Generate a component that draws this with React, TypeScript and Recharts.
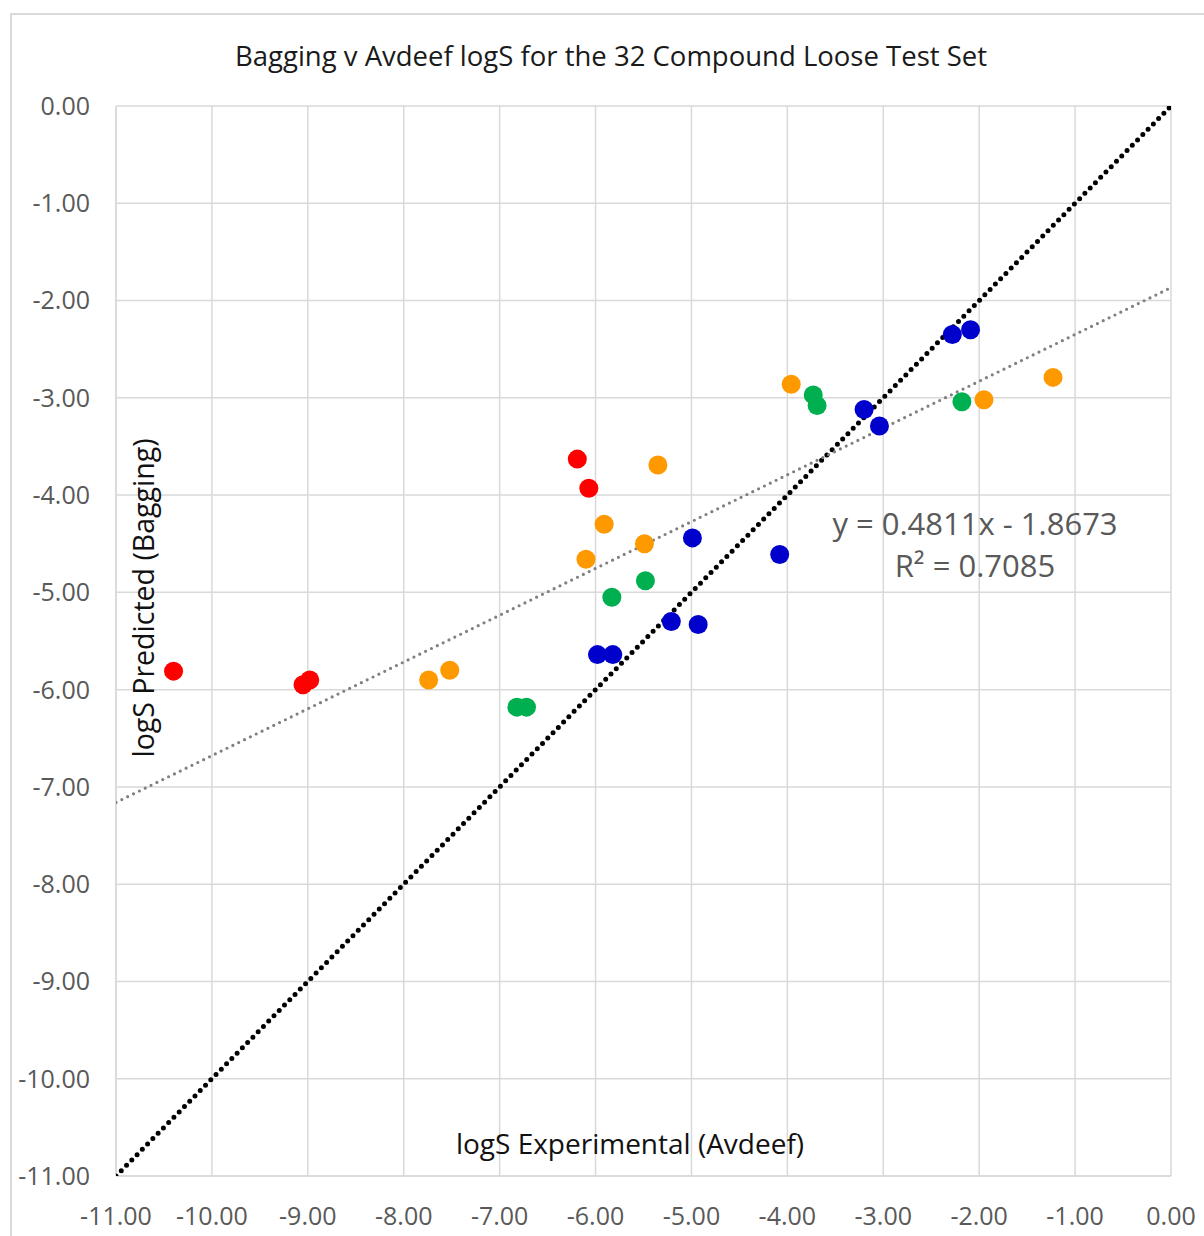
import React from 'react';
import { ScatterChart, Scatter, XAxis, YAxis, CartesianGrid } from 'recharts';

// points, grouped by marker colour
const redPts = [
  { x: -10.40, y: -5.81 },
  { x: -9.05, y: -5.95 },
  { x: -8.98, y: -5.90 },
  { x: -6.19, y: -3.63 },
  { x: -6.07, y: -3.93 },
];
const orangePts = [
  { x: -7.74, y: -5.90 },
  { x: -7.52, y: -5.80 },
  { x: -6.10, y: -4.66 },
  { x: -5.91, y: -4.30 },
  { x: -5.35, y: -3.69 },
  { x: -5.49, y: -4.50 },
  { x: -3.96, y: -2.86 },
  { x: -1.95, y: -3.02 },
  { x: -1.23, y: -2.79 },
];
const greenPts = [
  { x: -6.82, y: -6.18 },
  { x: -6.72, y: -6.18 },
  { x: -5.83, y: -5.05 },
  { x: -5.48, y: -4.88 },
  { x: -3.73, y: -2.97 },
  { x: -3.69, y: -3.08 },
  { x: -2.18, y: -3.04 },
];
const bluePts = [
  { x: -5.98, y: -5.64 },
  { x: -5.82, y: -5.64 },
  { x: -5.21, y: -5.30 },
  { x: -4.93, y: -5.33 },
  { x: -4.99, y: -4.44 },
  { x: -4.08, y: -4.61 },
  { x: -3.20, y: -3.12 },
  { x: -3.04, y: -3.29 },
  { x: -2.28, y: -2.35 },
  { x: -2.09, y: -2.30 },
];

const ticks = [-11, -10, -9, -8, -7, -6, -5, -4, -3, -2, -1, 0];

// Excel linear trendline
const slope = 0.4811;
const intercept = -1.8673;
const trend = [
  { x: -11, y: slope * -11 + intercept },
  { x: 0, y: intercept },
];
const identity = [
  { x: -11, y: -11 },
  { x: 0, y: 0 },
];

const FONT = "'Open Sans', sans-serif";
const GREY_TXT = '#595959';

const dot = (color: string) => (props: any) => (
  <circle cx={props.cx} cy={props.cy} r={9.5} fill={color} />
);
const noDot = () => <g />;

export default function App() {
  const tickStyle = { fontSize: 25, fill: GREY_TXT, fontFamily: FONT };
  return (
    <div style={{ position: 'absolute', left: 0, top: 0, width: 1204, height: 1236, overflow: 'hidden', background: '#fff', fontFamily: FONT }}>
      <div style={{ position: 'absolute', left: 10, top: 13, width: 1250, height: 1300, border: '2px solid #d9d9d9' }} />
      <ScatterChart width={1204} height={1236} margin={{ top: 106, right: 33, bottom: 10, left: 16 }}>
        <CartesianGrid stroke="#d9d9d9" strokeWidth={1.5} />
        <XAxis
          type="number"
          dataKey="x"
          domain={[-11, 0]}
          ticks={ticks}
          height={50}
          tickSize={0}
          tickMargin={31}
          tickFormatter={(v: number) => v.toFixed(2)}
          tick={tickStyle}
          stroke="#d9d9d9"
          strokeWidth={1.5}
          allowDataOverflow
        />
        <YAxis
          type="number"
          dataKey="y"
          domain={[-11, 0]}
          ticks={ticks}
          width={100}
          tickSize={0}
          tickMargin={26}
          tickFormatter={(v: number) => v.toFixed(2)}
          tick={tickStyle}
          stroke="#d9d9d9"
          strokeWidth={1.5}
          allowDataOverflow
        />
        <Scatter
          data={identity}
          isAnimationActive={false}
          line={{ stroke: '#000', strokeWidth: 5, strokeDasharray: '0 7.5', strokeLinecap: 'round' }}
          shape={noDot}
        />
        <Scatter
          data={trend}
          isAnimationActive={false}
          line={{ stroke: '#808080', strokeWidth: 3.2, strokeDasharray: '0 6.5', strokeLinecap: 'round' }}
          shape={noDot}
        />
        <Scatter data={redPts} isAnimationActive={false} shape={dot('#ff0000')} />
        <Scatter data={orangePts} isAnimationActive={false} shape={dot('#ff9900')} />
        <Scatter data={greenPts} isAnimationActive={false} shape={dot('#00b050')} />
        <Scatter data={bluePts} isAnimationActive={false} shape={dot('#0000cc')} />
      </ScatterChart>
      <div style={{ position: 'absolute', left: 611, top: 55, transform: 'translate(-50%, -50%)', fontSize: 27.5, color: '#1a1a1a', whiteSpace: 'nowrap' }}>
        Bagging v Avdeef logS for the 32 Compound Loose Test Set
      </div>
      <div style={{ position: 'absolute', left: 630, top: 1143, transform: 'translate(-50%, -50%)', fontSize: 28, color: '#111', whiteSpace: 'nowrap' }}>
        logS Experimental (Avdeef)
      </div>
      <div style={{ position: 'absolute', left: 143, top: 598, transform: 'translate(-50%, -50%) rotate(-90deg)', fontSize: 28.5, color: '#111', whiteSpace: 'nowrap' }}>
        logS Predicted (Bagging)
      </div>
      <div style={{ position: 'absolute', left: 975, top: 544, transform: 'translate(-50%, -50%)', fontSize: 31, color: GREY_TXT, textAlign: 'center', whiteSpace: 'nowrap', lineHeight: '42px' }}>
        <div>y = 0.4811x - 1.8673</div>
        <div>R² = 0.7085</div>
      </div>
    </div>
  );
}
